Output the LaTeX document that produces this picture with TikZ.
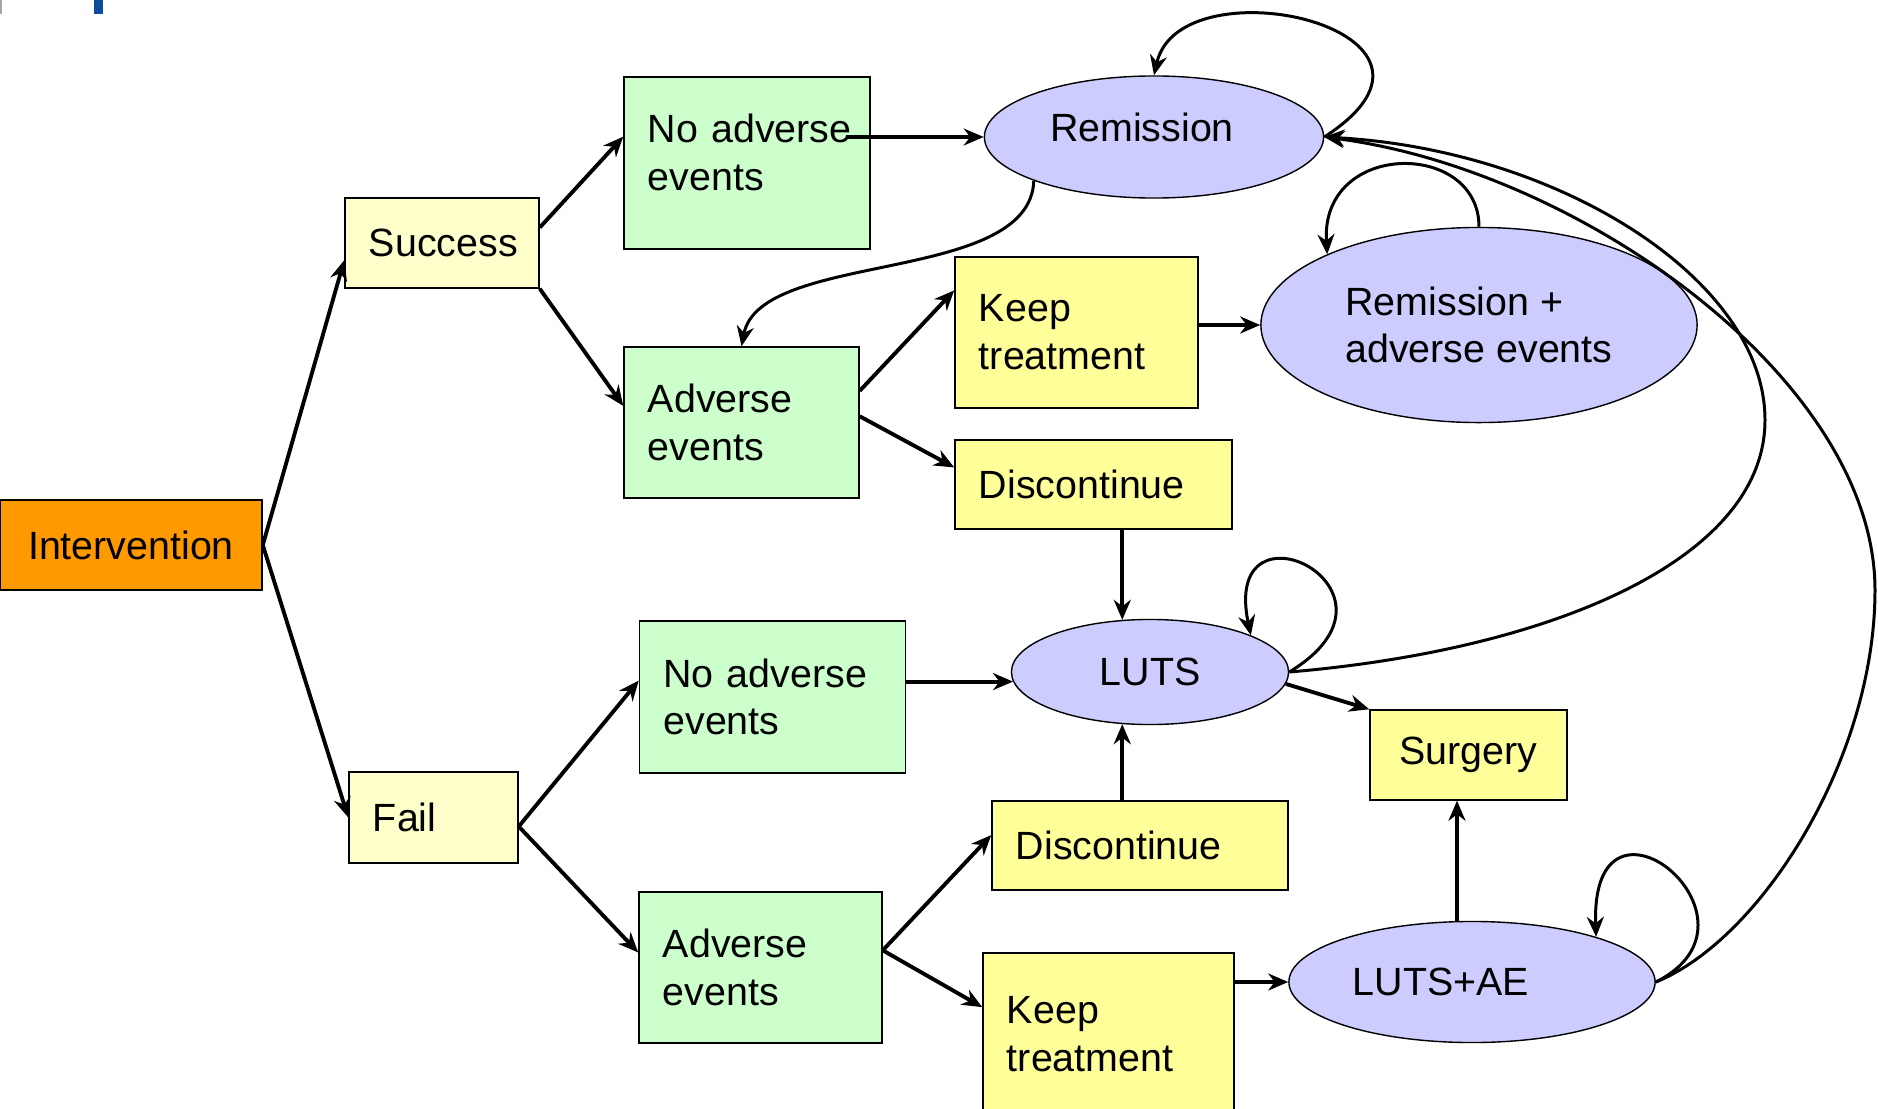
\documentclass[tikz,border=0pt]{standalone}
\usepackage{fontspec}
\setmainfont{Liberation Sans}
\usepackage{xcolor}
\usetikzlibrary{arrows.meta,shapes.geometric,calc}

\definecolor{intorange}{HTML}{FF9900}
\definecolor{outcomeyellow}{HTML}{FFFFCC}
\definecolor{aegreen}{HTML}{CCFFCC}
\definecolor{actionyellow}{HTML}{FFFF99}
\definecolor{statelilac}{HTML}{CCCCFF}
\definecolor{markblue}{HTML}{0B4C9C}

\begin{document}
\begin{tikzpicture}[
    x=0.01cm, y=-0.01cm,
    boxnode/.style={rectangle, draw, line width=0.4pt, inner xsep=2.4mm, inner ysep=0pt, align=left, font=\fontsize{11.2}{13.6}\selectfont},
    inode/.style={boxnode, fill=intorange, align=center},
    onode/.style={boxnode, fill=outcomeyellow},
    gnode/.style={boxnode, fill=aegreen},
    ynode/.style={boxnode, fill=actionyellow},
    snode/.style={ellipse, draw, line width=0.4pt, fill=statelilac, inner sep=0pt, align=left, font=\fontsize{11.2}{13.6}\selectfont},
    % Edge styles
    arr/.style={line width=1.1pt, -{Stealth[length=2mm, width=1.7mm]}},
    curvearr/.style={line width=0.85pt, -{Stealth[length=2mm, width=1.7mm]}},
    ]
    \useasboundingbox (0,0) rectangle (1878,1109);

    % Marks left over at the top edge
    \fill[gray!70] (0,0) rectangle (2,14);
    \fill[markblue] (94,0) rectangle (103,14);

    % Tree on the left
    \node[inode, minimum width=2.62cm, minimum height=0.9cm] (interv) at (131,545) {Intervention};
    \node[onode, minimum width=1.94cm, minimum height=0.9cm, text width=1.46cm] (succ) at (442,243) {Success};
    \node[onode, minimum width=1.69cm, minimum height=0.91cm, text width=1.21cm] (fail) at (433.5,817.5) {Fail};

    \node[gnode, minimum width=2.46cm, minimum height=1.72cm, text width=1.98cm] (nae1) at (747,163) {\mbox{No adverse}\\events\\[-7.4pt]\mbox{}};
    \node[gnode, minimum width=2.35cm, minimum height=1.51cm, text width=1.87cm] (ae1) at (741.5,422.5) {Adverse\\events};
    \node[gnode, minimum width=2.66cm, minimum height=1.52cm, text width=2.18cm] (nae2) at (772.5,697) {\mbox{No adverse}\\events};
    \node[gnode, minimum width=2.43cm, minimum height=1.51cm, text width=1.95cm] (ae2) at (760.5,967.5) {Adverse\\events};

    \node[ynode, minimum width=2.43cm, minimum height=1.51cm, text width=1.95cm] (kt1) at (1076.5,332.5) {Keep\\treatment};
    \node[ynode, minimum width=2.77cm, minimum height=0.89cm, text width=2.29cm] (disc1) at (1093.5,484.5) {Discontinue};
    \node[ynode, minimum width=2.96cm, minimum height=0.89cm, text width=2.48cm] (disc2) at (1140,845.5) {Discontinue};
    \node[ynode, minimum width=2.51cm, minimum height=1.62cm, text width=2.03cm] (kt2) at (1108.5,1034) {Keep\\treatment};
    \node[ynode, minimum width=1.97cm, minimum height=0.9cm, align=center] (surg) at (1468.5,755) {Surgery};

    % Health states
    \node[snode, minimum width=3.39cm, minimum height=1.22cm] (rem) at (1154,137) {Remission\hspace*{0.24cm}\\[-7.9pt]\mbox{}};
    \node[snode, minimum width=4.36cm, minimum height=1.95cm] (rae) at (1479,325) {Remission +\\adverse events};
    \node[snode, minimum width=2.77cm, minimum height=1.05cm] (luts) at (1150,672) {LUTS};
    \node[snode, minimum width=3.66cm, minimum height=1.21cm] (la) at (1472,982) {LUTS+AE\hspace*{0.62cm}};

    % Branches of the tree
    \draw[arr] (interv.east) -- (succ.190);
    \draw[arr] (interv.east) -- (fail.west);
    \draw[arr] (succ.9) -- (nae1.168);
    \draw[arr] (succ.south east) -- (ae1.172);
    \draw[arr] (fail.-6) -- (nae2.173);
    \draw[arr] (fail.-6) -- (ae2.173);
    \draw[arr] (ae1.15) -- (kt1.161);
    \draw[arr] (ae1.3) -- (disc1.173);
    \draw[arr] (ae2.8) -- (disc2.176);
    \draw[arr] (ae2.8) -- (kt2.168);

    % Into the health states
    \draw[arr] ($(nae1.east |- rem.west)+(-25,0)$) -- (rem.west);
    \draw[arr] (kt1.east |- rae.west) -- (rae.west);
    \draw[arr] (disc1.south -| luts.118) -- (luts.118);
    \draw[arr] (disc2.north -| luts.242) -- (luts.242);
    \draw[arr] (nae2.east |- luts.184) -- (luts.184);
    \draw[arr] (kt2.east |- la.west) -- (la.west);
    \draw[arr] (luts.355) -- (surg.north west);
    \draw[arr] ($(la.north)+(-15,0)$) -- ($(la.north |- surg.south)+(-15,0)$);

    % Remission back to adverse events
    \draw[curvearr] (rem.200) .. controls (1030,285) and (760,250) .. (ae1.north);

    % Staying in a state
    \draw[curvearr] (rem.east) .. controls (1490,30) and (1180,-40) .. (rem.north);
    \draw[curvearr] (rae.north) .. controls (1479,140) and (1320,140) .. (rae.155);
    \draw[curvearr] (luts.east) .. controls (1425,590) and (1220,490) .. (luts.20);
    \draw[curvearr] (la.east) .. controls (1780,920) and (1590,765) .. (la.20);

    % Long returns to remission
    \draw[curvearr] (luts.east) .. controls (1550,650) and (1765,560) .. (1765,420)
        .. controls (1765,280) and (1560,150) .. (rem.east);
    \draw[curvearr] (la.east) .. controls (1760,940) and (1875,760) .. (1875,590)
        .. controls (1875,380) and (1580,170) .. (rem.east);

\end{tikzpicture}
\end{document}
